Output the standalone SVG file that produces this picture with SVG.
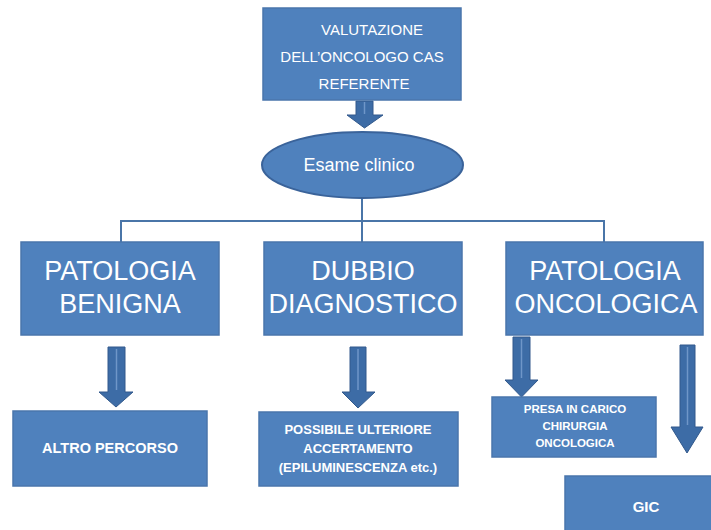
<svg xmlns="http://www.w3.org/2000/svg" width="711" height="530" viewBox="0 0 711 530">
<defs>
<style>
.box{fill:#4f81bd;stroke:#4a76ac;stroke-width:1.5}
.arr{fill:#3d6ca6;stroke:#32598c;stroke-width:1}
.hl{stroke:#6f96c8;stroke-width:1.5;fill:none}
.conn{fill:none;stroke:#4a75a8;stroke-width:2}
text{fill:#ffffff;font-family:"Liberation Sans",Arial,sans-serif;text-anchor:middle}
.big{font-size:27px}
.sm{font-size:15px}
.b{font-weight:bold}
</style>
</defs>
<rect width="711" height="530" fill="#ffffff"/>
<g id="connectors">
<path class="conn" d="M362,198 V221 M121,242 V221 H604 V242 M362,221 V242"/>
<g id="arrow-top"><polygon class="arr" points="356,101 373,101 373,115 383,115 364.5,128 347,115 356,115"/><line class="hl" x1="364.5" y1="102" x2="364.5" y2="114"/></g>
<g id="arrow-benigna"><polygon class="arr" points="108,347 125,347 125,392 133,392 116,407 99,392 108,392"/><line class="hl" x1="116.5" y1="349" x2="116.5" y2="390"/></g>
<g id="arrow-dubbio"><polygon class="arr" points="350,347 366,347 366,392 375,392 358,408 342,392 350,392"/><line class="hl" x1="358" y1="349" x2="358" y2="390"/></g>
<g id="arrow-onco-left"><polygon class="arr" points="513,337 530,337 530,380 538,380 521.5,397 505,380 513,380"/><line class="hl" x1="521.5" y1="339" x2="521.5" y2="378"/></g>
<g id="arrow-onco-right"><polygon class="arr" points="680,345 695,345 695,427 703,427 687,453 671,427 680,427"/><line class="hl" x1="687.5" y1="347" x2="687.5" y2="425"/></g>
</g>
<g id="valutazione">
<rect class="box" x="263" y="8" width="198" height="92"/>
<text class="sm" x="372" y="35">VALUTAZIONE</text>
<text class="sm" x="362" y="62">DELL’ONCOLOGO CAS</text>
<text class="sm" x="364" y="89">REFERENTE</text>
</g>
<g id="esame">
<ellipse cx="362.5" cy="165" rx="100.5" ry="33" fill="#4f81bd" stroke="#3a639a" stroke-width="2"/>
<text x="359" y="171" style="font-size:18px">Esame clinico</text>
</g>
<g id="benigna">
<rect class="box" x="21" y="242" width="198" height="93"/>
<text class="big" x="120" y="280">PATOLOGIA</text>
<text class="big" x="120" y="313">BENIGNA</text>
</g>
<g id="dubbio">
<rect class="box" x="264" y="242" width="198" height="93"/>
<text class="big" x="363" y="280">DUBBIO</text>
<text class="big" x="363" y="313">DIAGNOSTICO</text>
</g>
<g id="oncologica">
<rect class="box" x="506" y="242" width="197" height="93"/>
<text class="big" x="605" y="280">PATOLOGIA</text>
<text class="big" x="606" y="313">ONCOLOGICA</text>
</g>
<g id="altro">
<rect class="box" x="13" y="411" width="194" height="75"/>
<text class="b" x="110" y="453" style="font-size:14.5px">ALTRO PERCORSO</text>
</g>
<g id="possibile">
<rect class="box" x="259" y="412" width="199" height="74"/>
<text class="b" x="358" y="434" style="font-size:13px">POSSIBILE ULTERIORE</text>
<text class="b" x="358" y="453" style="font-size:13px">ACCERTAMENTO</text>
<text class="b" x="358" y="472" style="font-size:13px">(EPILUMINESCENZA etc.)</text>
</g>
<g id="presa">
<rect class="box" x="492" y="397" width="164" height="60"/>
<text class="b" x="575" y="413" style="font-size:11.5px">PRESA IN CARICO</text>
<text class="b" x="575" y="430" style="font-size:11.5px">CHIRURGIA</text>
<text class="b" x="575" y="447" style="font-size:11.5px">ONCOLOGICA</text>
</g>
<g id="gic">
<rect class="box" x="565" y="476" width="160" height="70"/>
<text class="b" x="646" y="512" style="font-size:15px">GIC</text>
</g>
</svg>
